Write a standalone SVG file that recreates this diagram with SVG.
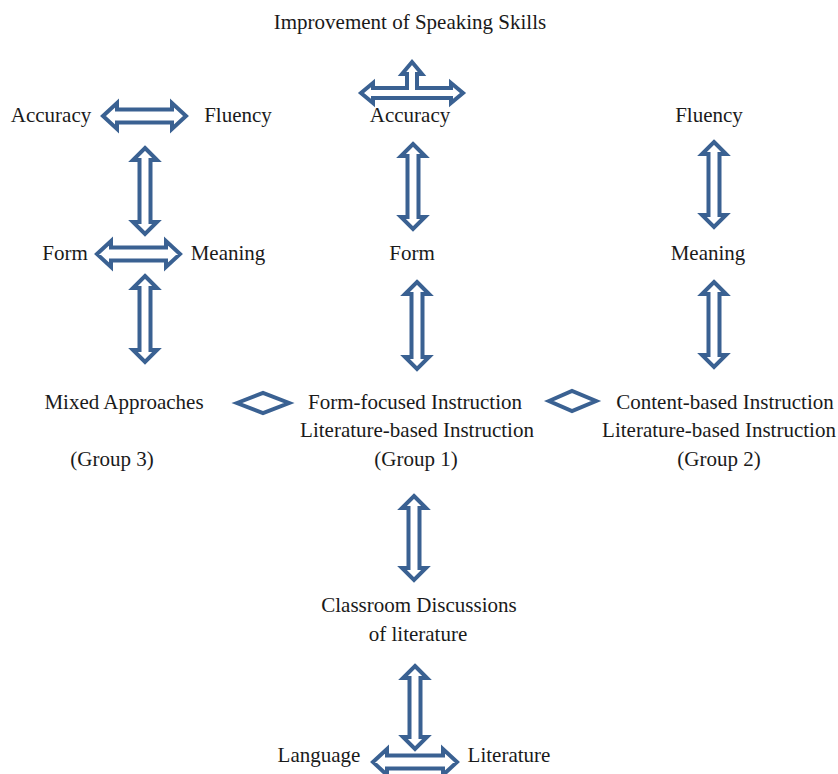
<svg xmlns="http://www.w3.org/2000/svg" width="838" height="774" viewBox="0 0 838 774">
<style>
  text { font-family: 'Liberation Serif', 'Times New Roman', Times, serif; font-size: 21px; fill: #1a1a1a; text-anchor: middle; }
  .a { fill: #ffffff; stroke: #3a6192; stroke-width: 4; stroke-linejoin: miter; stroke-miterlimit: 10; }
</style>
<rect width="838" height="774" fill="#ffffff"/>
<g id="connectors">
  <path class="a" d="M412,62 L422,74 L417,74 L417,88 L451,88 L451,83 L463,93 L451,103 L451,98 L373,98 L373,103 L361,93 L373,83 L373,88 L407,88 L407,74 L402,74 Z"/>
  <path class="a" d="M103,116 L117,103 L117,109.5 L172,109.5 L172,103 L186,116 L172,129 L172,122.5 L117,122.5 L117,129 Z"/>
  <path class="a" d="M145,148 L157,160 L150.5,160 L150.5,222 L157,222 L145,234 L133,222 L139.5,222 L139.5,160 L133,160 Z"/>
  <path class="a" d="M97,254 L111,241 L111,247.5 L166,247.5 L166,241 L180,254 L166,267 L166,260.5 L111,260.5 L111,267 Z"/>
  <path class="a" d="M145,276 L157,288 L150.5,288 L150.5,350 L157,350 L145,362 L133,350 L139.5,350 L139.5,288 L133,288 Z"/>
  <path class="a" d="M413,144 L425,156 L418.5,156 L418.5,217 L425,217 L413,229 L401,217 L407.5,217 L407.5,156 L401,156 Z"/>
  <path class="a" d="M417,282 L429,294 L422.5,294 L422.5,357 L429,357 L417,369 L405,357 L411.5,357 L411.5,294 L405,294 Z"/>
  <path class="a" d="M714,142 L726,154 L719.5,154 L719.5,215 L726,215 L714,227 L702,215 L708.5,215 L708.5,154 L702,154 Z"/>
  <path class="a" d="M714,282 L726,294 L719.5,294 L719.5,355 L726,355 L714,367 L702,355 L708.5,355 L708.5,294 L702,294 Z"/>
  <path class="a" d="M237,403 L263,393 L289,403 L263,413 Z"/>
  <path class="a" d="M549,401 L572,391 L596,401 L572,411 Z"/>
  <path class="a" d="M414,496 L426,508 L419.5,508 L419.5,568 L426,568 L414,580 L402,568 L408.5,568 L408.5,508 L402,508 Z"/>
  <path class="a" d="M415,666 L427,678 L420.5,678 L420.5,737 L427,737 L415,749 L403,737 L409.5,737 L409.5,678 L403,678 Z"/>
  <path class="a" d="M373,762 L387,749 L387,755.5 L443,755.5 L443,749 L457,762 L443,775 L443,768.5 L387,768.5 L387,775 Z"/>
</g>
<g id="title"><text x="410" y="29">Improvement of Speaking Skills</text></g>
<g id="accuracy-left"><text x="51" y="122">Accuracy</text></g>
<g id="fluency-left"><text x="238" y="122">Fluency</text></g>
<g id="accuracy-mid"><text x="410" y="122">Accuracy</text></g>
<g id="fluency-right"><text x="709" y="122">Fluency</text></g>
<g id="form-left"><text x="65" y="260">Form</text></g>
<g id="meaning-left"><text x="228" y="260">Meaning</text></g>
<g id="form-mid"><text x="412" y="260">Form</text></g>
<g id="meaning-right"><text x="708" y="260">Meaning</text></g>
<g id="group3">
  <text x="124" y="409">Mixed Approaches</text>
  <text x="112" y="466">(Group 3)</text>
</g>
<g id="group1">
  <text x="415" y="409">Form-focused Instruction</text>
  <text x="417" y="437">Literature-based Instruction</text>
  <text x="416" y="466">(Group 1)</text>
</g>
<g id="group2">
  <text x="725" y="409">Content-based Instruction</text>
  <text x="719" y="437">Literature-based Instruction</text>
  <text x="719" y="466">(Group 2)</text>
</g>
<g id="classroom">
  <text x="419" y="612">Classroom Discussions</text>
  <text x="418" y="641">of literature</text>
</g>
<g id="language"><text x="319" y="762">Language</text></g>
<g id="literature"><text x="509" y="762">Literature</text></g>
</svg>
